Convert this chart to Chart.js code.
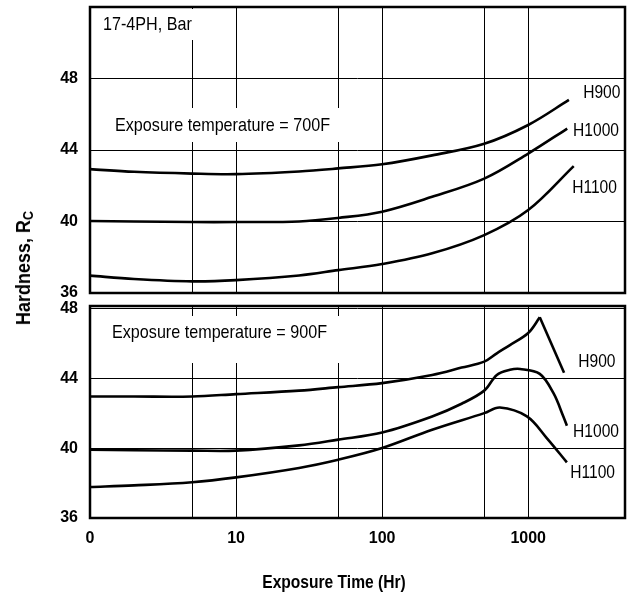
<!DOCTYPE html>
<html>
<head>
<meta charset="utf-8">
<title>17-4PH hardness vs exposure time</title>
<script src="https://cdn.jsdelivr.net/npm/chart.js@4.4.1/dist/chart.umd.min.js"></script>
<style>
  html, body { margin: 0; padding: 0; background: #fff; }
  #wrap { position: relative; width: 629px; height: 596px; overflow: hidden; color: #000; }
  #topPanel { position: absolute; left: 0; top: 0; }
  #bottomPanel { position: absolute; left: 0; top: 300px; }
  .axis-title {
    position: absolute; font-family: 'Liberation Sans', Arial, sans-serif;
    font-weight: bold; white-space: nowrap;
  }
  .axis-title sub { font-size: 14px; vertical-align: -3px; }
  #yTitle { left: 24px; top: 268px; font-size: 20px; transform: translate(-50%, -50%) rotate(-90deg) scaleX(0.9); }
  #xTitle { left: 334px; top: 582px; font-size: 19px; transform: translate(-50%, -50%) scaleX(0.82); }
</style>
</head>
<body>
<div id="wrap">
  <canvas id="topPanel" width="629" height="300"></canvas>
  <canvas id="bottomPanel" width="629" height="296"></canvas>
  <div class="axis-title" id="yTitle">Hardness, R<sub>C</sub></div>
  <div class="axis-title" id="xTitle">Exposure Time (Hr)</div>
</div>
<script>
// Time axis (log): grid positions and the labels printed under them
const hoursTicks = [1, 5, 10, 50, 100, 500, 1000];
const hourLabels = ['0', '', '10', '', '100', '', '1000'];
const hardnessTicks = [36, 40, 44, 48];

// Exposure at 700F
const hours700H900 = [1, 2, 5, 10, 27, 50, 100, 220, 500, 1000, 1900];
const rc700H900 = [42.93, 42.78, 42.68, 42.65, 42.8, 42.97, 43.2, 43.7, 44.35, 45.4, 46.8];
const hours700H1000 = [1, 2, 5, 10, 27, 50, 100, 220, 500, 1000, 1850];
const rc700H1000 = [40.03, 40.0, 39.97, 39.97, 40.0, 40.2, 40.55, 41.38, 42.4, 43.8, 45.2];
const hours700H1100 = [1, 2, 5, 10, 27, 50, 100, 220, 500, 1000, 2050];
const rc700H1100 = [36.97, 36.78, 36.65, 36.72, 36.98, 37.28, 37.62, 38.22, 39.24, 40.64, 43.1];

// Exposure at 900F (H900 rises to a sharp peak, then falls straight)
const hours900H900 = [1, 2, 5, 10, 27, 50, 100, 220, 350, 500, 610, 750, 1000, 1200];
const rc900H900 = [42.96, 42.96, 42.96, 43.1, 43.3, 43.5, 43.73, 44.2, 44.62, 44.96, 45.44, 45.91, 46.6, 47.5];
const hours900H900Drop = [1200, 1760];
const rc900H900Drop = [47.5, 44.33];
const hours900H1000 = [1, 2, 5, 10, 27, 50, 100, 220, 350, 500, 610, 750, 880, 1200, 1490, 1740, 1840];
const rc900H1000 = [39.91, 39.88, 39.86, 39.86, 40.16, 40.49, 40.9, 41.82, 42.55, 43.3, 44.2, 44.49, 44.54, 44.26, 43.15, 41.82, 41.29];
const hours900H1100 = [1, 2, 5, 10, 27, 50, 100, 220, 500, 640, 980, 1340, 1840];
const rc900H1100 = [37.78, 37.87, 38.05, 38.33, 38.87, 39.34, 40.01, 41.06, 42.01, 42.33, 41.82, 40.58, 39.19];

// Narrow face: Liberation Sans squeezed horizontally
const NOTE_FONT = "19px 'Liberation Sans', Arial, sans-serif";
const NARROW = 0.85;
const TICK_FONT = { family: "'Liberation Sans', Arial, sans-serif", size: 16, weight: 'bold' };

function toPoints(hours, values) {
    return hours.map((h, i) => ({ x: h, y: values[i] }));
}

function curve(hours, values, tension) {
    return {
        data: toPoints(hours, values),
        borderColor: '#000',
        borderWidth: 2.6,
        pointRadius: 0,
        fill: false,
        tension: tension
    };
}

function narrowText(ctx, text, x, y, squeeze) {
    ctx.save();
    ctx.translate(x, y);
    ctx.scale(squeeze, 1);
    ctx.fillText(text, 0, 0);
    ctx.restore();
}

// White label boxes over the grid, curve names and the heavy panel frame
const panelDecor = {
    id: 'panelDecor',
    beforeDatasetsDraw(chart, args, opts) {
        const ctx = chart.ctx;
        ctx.save();
        (opts.notes || []).forEach(n => {
            ctx.fillStyle = '#fff';
            ctx.fillRect(n.box[0], n.box[1], n.box[2], n.box[3]);
            ctx.fillStyle = '#000';
            ctx.font = NOTE_FONT;
            ctx.textBaseline = 'middle';
            ctx.textAlign = 'left';
            narrowText(ctx, n.text, n.x, n.y, NARROW);
        });
        ctx.restore();
    },
    afterDatasetsDraw(chart, args, opts) {
        const ctx = chart.ctx;
        const xs = chart.scales.x, ys = chart.scales.y;
        ctx.save();
        ctx.fillStyle = '#000';
        ctx.font = NOTE_FONT;
        ctx.textBaseline = 'middle';
        ctx.textAlign = 'left';
        (opts.curveNames || []).forEach(c => {
            narrowText(ctx, c.text, xs.getPixelForValue(c.hours), ys.getPixelForValue(c.rc), 0.82);
        });
        const a = chart.chartArea;
        ctx.strokeStyle = '#000';
        ctx.lineWidth = 2.5;
        ctx.strokeRect(a.left, a.top, a.right - a.left, a.bottom - a.top);
        ctx.restore();
    }
};

function timeScale(showLabels) {
    return {
        type: 'logarithmic',
        min: 1,
        max: 4600,
        afterBuildTicks: s => { s.ticks = hoursTicks.map(v => ({ value: v })); },
        ticks: {
            display: showLabels,
            autoSkip: false,
            maxRotation: 0,
            padding: 11,
            color: '#000',
            font: TICK_FONT,
            callback: v => hourLabels[hoursTicks.indexOf(v)] || ''
        },
        grid: { color: '#000', lineWidth: 1, drawTicks: false },
        border: { display: false },
        afterFit: s => {
            s.height = showLabels ? 78 : 0;
            s.paddingLeft = 0;
            s.paddingRight = 0;
        }
    };
}

function hardnessScale(max) {
    return {
        min: 36,
        max: max,
        afterBuildTicks: s => { s.ticks = hardnessTicks.map(v => ({ value: v })); },
        ticks: { padding: 12, color: '#000', font: TICK_FONT },
        grid: { color: '#000', lineWidth: 1, drawTicks: false },
        border: { display: false },
        afterFit: s => {
            s.width = 90;
            s.paddingTop = 0;
            s.paddingBottom = 0;
        }
    };
}

function commonOptions(padding, yMax, showTimeLabels, decor) {
    return {
        responsive: false,
        animation: false,
        layout: { padding: padding },
        plugins: {
            legend: { display: false },
            tooltip: { enabled: false },
            panelDecor: decor
        },
        scales: {
            x: timeScale(showTimeLabels),
            y: hardnessScale(yMax)
        }
    };
}

// Upper panel: 700F exposure
new Chart(document.getElementById('topPanel'), {
    type: 'line',
    data: {
        datasets: [
            curve(hours700H900, rc700H900, 0.35),
            curve(hours700H1000, rc700H1000, 0.35),
            curve(hours700H1100, rc700H1100, 0.35)
        ]
    },
    options: commonOptions({ left: 0, right: 4, top: 7, bottom: 7 }, 52, false, {
        notes: [
            { text: '17-4PH, Bar', x: 103, y: 25, box: [92, 9, 103, 31] },
            { text: 'Exposure temperature = 700F', x: 115, y: 126, box: [92, 108, 253, 34] }
        ],
        curveNames: [
            { text: 'H900', hours: 2380, rc: 47.2 },
            { text: 'H1000', hours: 2030, rc: 45.1 },
            { text: 'H1100', hours: 2000, rc: 41.87 }
        ]
    }),
    plugins: [panelDecor]
});

// Lower panel: 900F exposure
new Chart(document.getElementById('bottomPanel'), {
    type: 'line',
    data: {
        datasets: [
            curve(hours900H900, rc900H900, 0.35),
            curve(hours900H900Drop, rc900H900Drop, 0),
            curve(hours900H1000, rc900H1000, 0.35),
            curve(hours900H1100, rc900H1100, 0.35)
        ]
    },
    options: commonOptions({ left: 0, right: 4, top: 6, bottom: 0 }, 48.15, true, {
        notes: [
            { text: 'Exposure temperature = 900F', x: 112, y: 33, box: [92, 16, 253, 47] }
        ],
        curveNames: [
            { text: 'H900', hours: 2200, rc: 44.94 },
            { text: 'H1000', hours: 2030, rc: 40.94 },
            { text: 'H1100', hours: 1940, rc: 38.6 }
        ]
    }),
    plugins: [panelDecor]
});
</script>
</body>
</html>
